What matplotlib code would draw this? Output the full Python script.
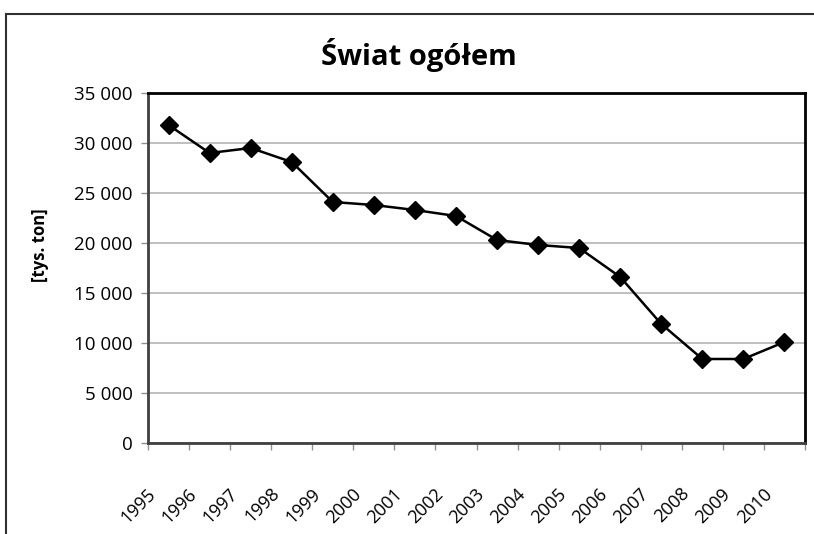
import numpy as np
import matplotlib
matplotlib.use('agg')
import matplotlib.pyplot as plt
import matplotlib.transforms as mtransforms
from matplotlib.ticker import FuncFormatter, FixedLocator

years = ['1995', '1996', '1997', '1998', '1999', '2000', '2001', '2002',
         '2003', '2004', '2005', '2006', '2007', '2008', '2009', '2010']
values = [31800, 29000, 29500, 28100, 24100, 23800, 23300, 22700,
          20300, 19800, 19500, 16600, 11900, 8400, 8400, 10100]
yticks = [0, 5000, 10000, 15000, 20000, 25000, 30000, 35000]

plt.rcParams['font.family'] = ['Open Sans', 'DejaVu Sans']

W, H = 814, 534
fig = plt.figure(figsize=(W / 100, H / 100), dpi=100)
ax = fig.add_axes([148 / W, 1 - 443 / H, (805 - 148) / W, (443 - 93) / H])

x = np.arange(len(years))
ax.plot(x, values, color='black', lw=1.8, marker='D', ms=9.5,
        markerfacecolor='black', markeredgecolor='black', zorder=3)

ax.set_xlim(-0.5, len(years) - 0.5)
ax.set_ylim(0, 35000)
ax.set_yticks(yticks)
ax.yaxis.set_major_formatter(FuncFormatter(lambda v, p: '{:,.0f}'.format(v).replace(',', ' ')))
ax.grid(axis='y', color='#b4b4b4', lw=1.2)
ax.set_axisbelow(True)

# category labels centred, tick marks on boundaries
ax.set_xticks(x)
ax.set_xticklabels(years, rotation=45, ha='right', va='top', fontsize=13)
ax.xaxis.set_minor_locator(FixedLocator(np.arange(-0.5, len(years), 1.0)))
ax.tick_params(axis='x', which='major', length=0, pad=30)
ax.tick_params(axis='x', which='minor', length=5, color='#909090', width=1)
offset = mtransforms.ScaledTranslation(-9 / 100, 0, fig.dpi_scale_trans)
for lbl in ax.get_xticklabels():
    lbl.set_transform(lbl.get_transform() + offset)

ax.tick_params(axis='y', length=5, color='#909090', width=1, labelsize=13.5, pad=6)

for s in ['top', 'right']:
    ax.spines[s].set_color('black')
    ax.spines[s].set_linewidth(2)
for s in ['left', 'bottom']:
    ax.spines[s].set_color('#404040')
    ax.spines[s].set_linewidth(2)

ax.set_ylabel('[tys. ton]', fontsize=12, fontweight='bold')
ax.yaxis.set_label_coords(49 / W, 1 - 245 / H, transform=fig.transFigure)

fig.text(419 / W, 1 - 55 / H, 'Świat ogółem', ha='center', va='center',
         fontsize=21, fontweight='bold')

# outer chart border
fig.add_artist(plt.Line2D([6 / W, 1], [1 - 14 / H, 1 - 14 / H], color='#303030', lw=1.5,
                          transform=fig.transFigure))
fig.add_artist(plt.Line2D([6 / W, 6 / W], [0, 1 - 14 / H], color='#303030', lw=1.5,
                          transform=fig.transFigure))

fig.savefig('out.png', dpi=100)
